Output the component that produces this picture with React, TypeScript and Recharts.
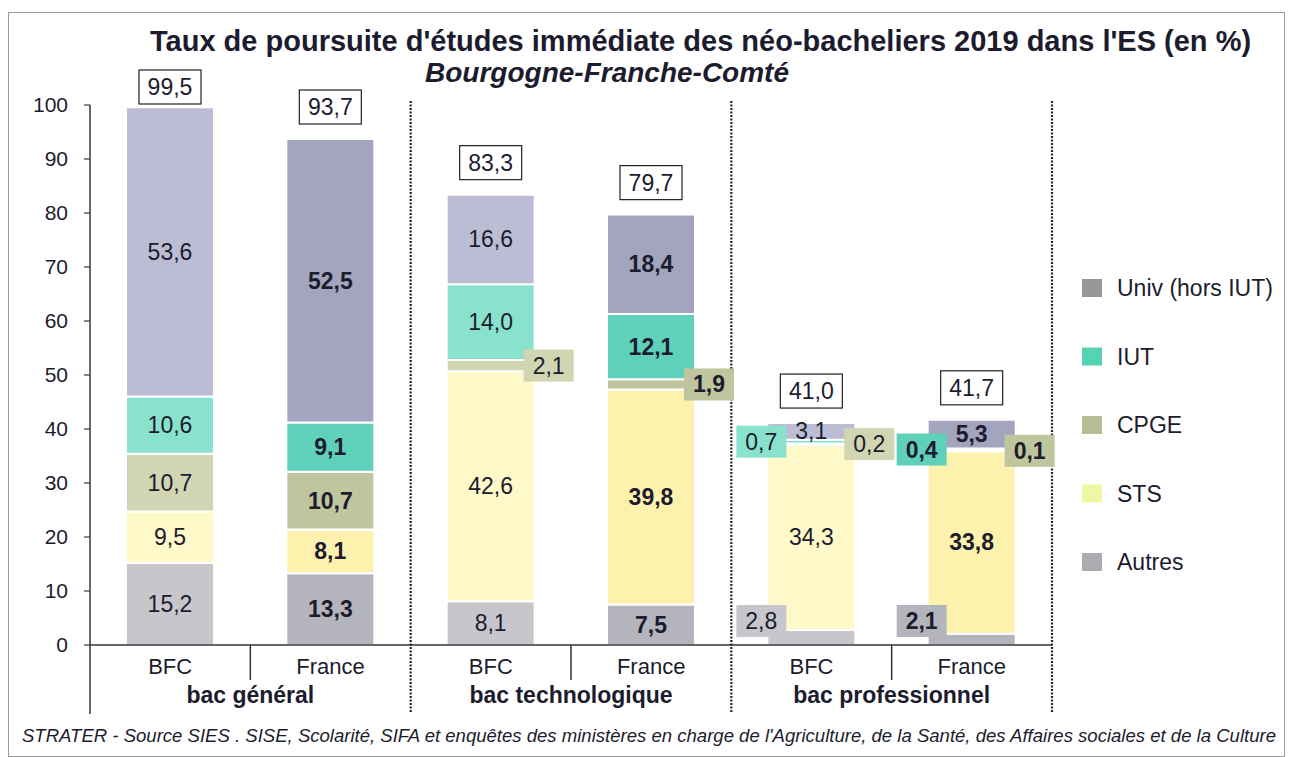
import React from 'react';
import { BarChart, Bar, XAxis, YAxis, Cell, LabelList } from 'recharts';

// ---------- data ----------
const categories = ['BFC', 'France', 'BFC', 'France', 'BFC', 'France'];
const groupLabels = ['bac général', 'bac technologique', 'bac professionnel'];
const autres = [15.2, 13.3, 8.1, 7.5, 2.8, 2.1];
const sts = [9.5, 8.1, 42.6, 39.8, 34.3, 33.8];
const cpge = [10.7, 10.7, 2.1, 1.9, 0.2, 0.1];
const iut = [10.6, 9.1, 14.0, 12.1, 0.7, 0.4];
const univ = [53.6, 52.5, 16.6, 18.4, 3.1, 5.3];
const totals = [99.5, 93.7, 83.3, 79.7, 41.0, 41.7];
const yTicks = [0, 10, 20, 30, 40, 50, 60, 70, 80, 90, 100];

const seriesKeys = ['autres', 'sts', 'cpge', 'iut', 'univ'];
const seriesNames = ['Autres', 'STS', 'CPGE', 'IUT', 'Univ (hors IUT)'];
const seriesValues: Record<string, number[]> = { autres, sts, cpge, iut, univ };

const title = "Taux de poursuite d'études immédiate des néo-bacheliers 2019 dans l'ES (en %)";
const subtitle = 'Bourgogne-Franche-Comté';
const footer =
  "STRATER - Source SIES . SISE, Scolarité, SIFA et enquêtes des ministères en charge de l'Agriculture, de la Santé, des Affaires sociales et de la Culture";

const data = categories.map((c, i) => ({
  key: `c${i}`,
  autres: autres[i],
  sts: sts[i],
  cpge: cpge[i],
  iut: iut[i],
  univ: univ[i],
}));

// ---------- style ----------
const W = 1291;
const H = 757;
const PLOT_TOP = 105;
const PLOT_BOTTOM = 645;
const PLOT_LEFT = 90;
const PLOT_RIGHT = 1052;
const HALF_BAND = (PLOT_RIGHT - PLOT_LEFT) / categories.length / 2;
const FONT = "'Liberation Sans', Arial, Helvetica, sans-serif";
const TEXT = '#1c1c2e';

const COLORS: Record<string, [string, string]> = {
  autres: ['#c6c6cc', '#b4b4bc'],
  sts: ['#fff8c8', '#fcf2ae'],
  cpge: ['#d1d5b2', '#bfc59c'],
  iut: ['#88e2ce', '#5fd0ba'],
  univ: ['#bcbdd5', '#a3a4be'],
};
const LEGEND_COLORS: Record<string, string> = {
  univ: '#979799',
  iut: '#56d2b4',
  cpge: '#b6bc96',
  sts: '#eef7a4',
  autres: '#ababb0',
};
const SIDE: Record<string, 'left' | 'right' | null> = {
  autres: 'left',
  sts: null,
  cpge: 'right',
  iut: 'left',
  univ: null,
};

const fmt = (v: number) => v.toFixed(1).replace('.', ',');

function geom(props: any) {
  const vb = props.viewBox && props.viewBox.width !== undefined ? props.viewBox : props;
  const x = Number(vb.x);
  const y = Number(vb.y);
  const w = Number(vb.width);
  const h = Number(vb.height);
  const top = Math.min(y, y + h);
  const hh = Math.abs(h);
  let idx = props.index;
  if (typeof idx !== 'number') {
    idx = Math.round((x + w / 2 - PLOT_LEFT) / (2 * HALF_BAND) - 0.5);
  }
  return { x, w, top, hh, idx };
}

function makeSegLabel(key: string) {
  return (props: any) => {
    const { x, w, top, hh, idx } = geom(props);
    const v = seriesValues[key][idx];
    if (v === undefined) return null;
    const bold = idx % 2 === 1;
    const side = SIDE[key];
    let cy = top + hh / 2;
    if (side && v < 3) {
      const bw = 50;
      const bh = 32;
      const cx = side === 'left' ? x - 6 : x + w + 14;
      cy = Math.min(cy, PLOT_BOTTOM - 8 - bh / 2);
      return (
        <g>
          <rect x={cx - bw / 2} y={cy - bh / 2} width={bw} height={bh} fill={COLORS[key][idx % 2]} />
          <text
            x={cx}
            y={cy}
            textAnchor="middle"
            dominantBaseline="central"
            fontSize={23}
            fontWeight={bold ? 'bold' : 'normal'}
            fontFamily={FONT}
            fill={TEXT}
          >
            {fmt(v)}
          </text>
        </g>
      );
    }
    return (
      <text
        x={x + w / 2}
        y={cy}
        textAnchor="middle"
        dominantBaseline="central"
        fontSize={23}
        fontWeight={bold ? 'bold' : 'normal'}
        fontFamily={FONT}
        fill={TEXT}
      >
        {fmt(v)}
      </text>
    );
  };
}

const totalLabel = (props: any) => {
  const { x, w, top, idx } = geom(props);
  const t = totals[idx];
  if (t === undefined) return null;
  const bw = 62;
  const bh = 34;
  const cx = x + w / 2;
  const cy = Math.max(top - 32, 87);
  return (
    <g>
      <rect x={cx - bw / 2} y={cy - bh / 2} width={bw} height={bh} fill="#fff" stroke="#222" strokeWidth={1.2} />
      <text x={cx} y={cy} textAnchor="middle" dominantBaseline="central" fontSize={23} fontFamily={FONT} fill={TEXT}>
        {fmt(t)}
      </text>
    </g>
  );
};

const XTick = (props: any) => {
  const { x, payload } = props;
  const i = typeof payload?.index === 'number' ? payload.index : props.index;
  const cx = Number(x);
  const half = HALF_BAND;
  return (
    <g>
      <text x={cx} y={666} textAnchor="middle" dominantBaseline="central" fontSize={22} fontFamily={FONT} fill={TEXT}>
        {categories[i]}
      </text>
      {i % 2 === 0 && (
        <g>
          <line x1={cx + half} x2={cx + half} y1={PLOT_BOTTOM} y2={680} stroke="#333" strokeWidth={1.5} />
          <text
            x={cx + half}
            y={695}
            textAnchor="middle"
            dominantBaseline="central"
            fontSize={23}
            fontWeight="bold"
            fontFamily={FONT}
            fill={TEXT}
          >
            {groupLabels[i / 2]}
          </text>
        </g>
      )}
      {i % 2 === 1 && (
        <line
          x1={cx + half}
          x2={cx + half}
          y1={101}
          y2={712}
          stroke="#222"
          strokeWidth={2.2}
          strokeDasharray="2 1.5"
        />
      )}
      {i === 0 && <line x1={cx - half} x2={cx - half} y1={PLOT_BOTTOM} y2={714} stroke="#333" strokeWidth={1.5} />}
    </g>
  );
};

const legendOrder = ['univ', 'iut', 'cpge', 'sts', 'autres'];

export default function App() {
  return (
    <div style={{ position: 'absolute', left: 0, top: 0, width: W, height: H, background: '#fff' }}>
      <svg width={W} height={H} style={{ position: 'absolute', left: 0, top: 0 }}>
        <rect x={8.5} y={12.5} width={1276} height={744} fill="#fff" stroke="#9a9a9a" strokeWidth={1} />
        <text x={150} y={51} fontSize={29} fontWeight="bold" fontFamily={FONT} fill={TEXT}>
          {title}
        </text>
        <text x={425} y={82} fontSize={28} fontWeight="bold" fontStyle="italic" fontFamily={FONT} fill={TEXT}>
          {subtitle}
        </text>
        <text
          x={22}
          y={742}
          fontSize={18}
          fontStyle="italic"
          fontFamily={FONT}
          fill={TEXT}
          textLength={1254}
          lengthAdjust="spacingAndGlyphs"
        >
          {footer}
        </text>
        {legendOrder.map((k, n) => {
          const cy = 288 + n * 68.5;
          return (
            <g key={k}>
              <rect x={1082} y={cy - 9} width={20} height={18} fill={LEGEND_COLORS[k]} />
              <text x={1117} y={cy} dominantBaseline="central" fontSize={23} fontFamily={FONT} fill={TEXT}>
                {seriesNames[seriesKeys.indexOf(k)]}
              </text>
            </g>
          );
        })}
      </svg>
      <div style={{ position: 'absolute', left: 0, top: 0 }}>
        <BarChart
          width={W}
          height={H}
          data={data}
          margin={{ top: PLOT_TOP, right: W - PLOT_RIGHT, bottom: H - PLOT_BOTTOM - 70, left: 0 }}
        >
          <YAxis
            width={PLOT_LEFT}
            domain={[0, 100]}
            ticks={yTicks}
            interval={0}
            tickSize={6}
            tickMargin={16}
            axisLine={{ stroke: '#333', strokeWidth: 1.5 }}
            tickLine={{ stroke: '#333', strokeWidth: 1.2 }}
            tick={{ fontSize: 21, fill: TEXT, fontFamily: FONT }}
          />
          <XAxis
            dataKey="key"
            height={70}
            interval={0}
            tickSize={0}
            tickMargin={0}
            tickLine={false}
            axisLine={{ stroke: '#333', strokeWidth: 1.5 }}
            tick={<XTick />}
          />
          {seriesKeys.map((k) => (
            <Bar key={k} dataKey={k} stackId="a" barSize={88} stroke="#fff" strokeWidth={2} isAnimationActive={false}>
              {data.map((_, i) => (
                <Cell key={i} fill={COLORS[k][i % 2]} />
              ))}
              <LabelList dataKey={k} content={makeSegLabel(k)} />
              {k === 'univ' && <LabelList dataKey={k} content={totalLabel} />}
            </Bar>
          ))}
        </BarChart>
      </div>
    </div>
  );
}
